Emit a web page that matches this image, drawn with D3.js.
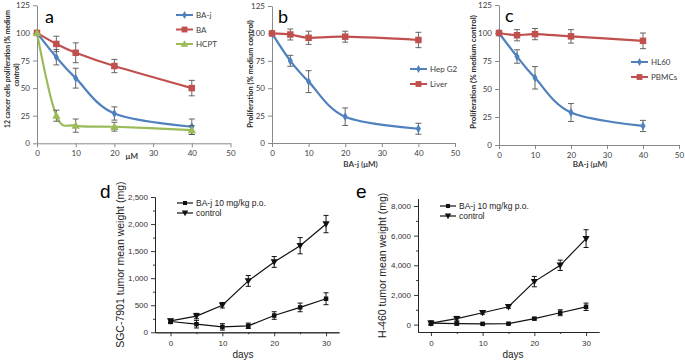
<!DOCTYPE html>
<html><head><meta charset="utf-8">
<script src="https://cdnjs.cloudflare.com/ajax/libs/d3/7.8.5/d3.min.js"></script>
<style>body{margin:0;background:#fff}svg{display:block}</style></head>
<body><svg id="c" width="685" height="362"></svg>
<script>
// ---------- DATA ----------
const concA = [0, 5, 10, 20, 40];
const aBaJ = [100, 78, 59, 27, 15];
const aBaJErr = [0, 7, 9, 6, 7];
const aBA = [100, 90, 82, 70, 50];
const aBAErr = [0, 7, 9, 6, 7];
const aHCPT = [100, 25, 16, 15, 12];
const aHCPTErr = [0, 5, 6, 4, 4];

const bHep = [100, 75, 56, 24, 13];
const bHepErr = [0, 5, 10, 8, 5];
const bLiver = [100, 99, 96, 97, 94];
const bLiverErr = [0, 5, 6, 5, 7];

const cHL60 = [100, 79, 60, 29, 17];
const cHL60Err = [0, 6, 10, 8, 5];
const cPBMC = [100, 98, 99, 97, 93];
const cPBMCErr = [0, 5, 5, 6, 7];

const percentTicks = [0, 25, 50, 75, 100, 125];
const concTicks = [0, 10, 20, 30, 40, 50];

const days = [0, 5, 10, 15, 20, 25, 30];
const dBaJ = [200, 150, 100, 120, 310, 460, 620];
const dBaJErr = [40, 70, 60, 50, 70, 80, 110];
const dCtrl = [210, 300, 500, 950, 1300, 1600, 2000];
const dCtrlErr = [30, 50, 50, 100, 100, 150, 160];
const dTicks = [0, 500, 1000, 1500, 2000, 2500];

const eBaJ = [100, 70, 50, 60, 400, 800, 1200];
const eBaJErr = [100, 100, 50, 50, 80, 200, 250];
const eCtrl = [100, 400, 800, 1200, 2900, 4000, 5800];
const eCtrlErr = [150, 150, 100, 100, 350, 350, 600];
const eTicks = [0, 2000, 4000, 6000, 8000];
const dayTicks = [0, 10, 20, 30];

// ---------- DRAW ----------
const svg = d3.select("#c");
const BLUE = "#4F81BD", RED = "#C0504D", GREEN = "#9BBB59";
const XF = "Lato, Open Sans, Liberation Sans, sans-serif";
const AF = "Liberation Sans, Arial, sans-serif";

function marker(g, type, x, y, color, s) {
  if (type === "diamond") {
    g.append("path").attr("d", d3.symbol(d3.symbolDiamond, s * s * 0.9)()).attr("transform", `translate(${x},${y})`).attr("fill", color);
  } else if (type === "square") {
    g.append("rect").attr("x", x - s / 2).attr("y", y - s / 2).attr("width", s).attr("height", s).attr("fill", color);
  } else if (type === "triangle") {
    g.append("path").attr("d", `M${x},${y - s * 0.6}L${x + s * 0.6},${y + s * 0.45}L${x - s * 0.6},${y + s * 0.45}Z`).attr("fill", color);
  } else if (type === "tridown") {
    g.append("path").attr("d", `M${x},${y + s * 0.6}L${x + s * 0.6},${y - s * 0.45}L${x - s * 0.6},${y - s * 0.45}Z`).attr("fill", color);
  }
}

function excelPanel(cfg) {
  const g = svg.append("g");
  const x = d3.scaleLinear().domain([0, 50]).range([cfg.x0, cfg.x1]);
  const y = d3.scaleLinear().domain([0, 125]).range([cfg.y0, cfg.y1]);
  const ax = g.append("g").attr("transform", `translate(0,${cfg.y0})`)
    .call(d3.axisBottom(x).tickValues(concTicks).tickSize(4).tickSizeOuter(0).tickPadding(3));
  const ay = g.append("g").attr("transform", `translate(${cfg.x0},0)`)
    .call(d3.axisLeft(y).tickValues(percentTicks).tickSize(4).tickSizeOuter(0).tickPadding(3));
  [ax, ay].forEach(a => {
    a.selectAll("path,line").attr("stroke", "#8a8a8a");
    a.selectAll("text").attr("fill", "#404040").style("font-family", XF).style("font-size", "8px");
  });
  cfg.series.forEach(s => {
    const pts = concA.map((c, i) => [x(c), y(s.v[i])]);
    g.append("path").attr("d", d3.line().curve(d3.curveCardinal.tension(0))(pts))
      .attr("fill", "none").attr("stroke", s.color).attr("stroke-width", 2.2);
  });
  cfg.series.forEach(s => {
    concA.forEach((c, i) => {
      if (s.e[i] > 0) {
        const xx = x(c), t = y(s.v[i] + s.e[i]), b = y(s.v[i] - s.e[i]);
        g.append("line").attr("x1", xx).attr("x2", xx).attr("y1", t).attr("y2", b).attr("stroke", "#555").attr("stroke-width", 0.9);
        [t, b].forEach(yy => g.append("line").attr("x1", xx - 3).attr("x2", xx + 3).attr("y1", yy).attr("y2", yy).attr("stroke", "#555").attr("stroke-width", 0.9));
      }
      marker(g, s.m, x(c), y(s.v[i]), s.color, s.ms);
    });
  });
  cfg.series.forEach((s, i) => {
    const ly = cfg.ly + i * cfg.lstep;
    g.append("line").attr("x1", cfg.lx).attr("x2", cfg.lx + 17).attr("y1", ly).attr("y2", ly).attr("stroke", s.color).attr("stroke-width", 2);
    marker(g, s.m, cfg.lx + 8.5, ly, s.color, s.ms * 0.9);
    g.append("text").attr("x", cfg.lx + 20).attr("y", ly + 3).text(s.name)
      .style("font-family", XF).style("font-size", "8px").attr("fill", "#404040");
  });
  g.append("text").attr("x", cfg.letX).attr("y", cfg.letY).text(cfg.letter)
    .style("font-family", XF).style("font-size", "18px").attr("fill", "#000");
  g.append("text").attr("x", (cfg.x0 + cfg.x1) / 2 + (cfg.xlOff || 0)).attr("y", cfg.xlY).attr("text-anchor", "middle")
    .text(cfg.xlabel).style("font-family", XF).style("font-size", "8px").style("font-weight", "bold").attr("fill", "#404040");
  // size the y title so that its natural length matches the reference
  const base = 8;
  const probe = g.append("text").text(cfg.ylabel[0]).style("font-family", XF).style("font-size", base + "px").style("font-weight", "bold");
  const fs = Math.min(8, base * cfg.ylLen / probe.node().getComputedTextLength());
  probe.remove();
  cfg.ylabel.forEach((t, i) => {
    g.append("text").attr("transform", `translate(${cfg.ylX + i * 9.5},${cfg.ylY[i]}) rotate(-90)`).attr("text-anchor", "middle")
      .text(t).style("font-family", XF).style("font-size", fs + "px").style("font-weight", "bold").attr("fill", "#262626");
  });
}

excelPanel({
  x0: 37, x1: 230.5, y0: 143.3, y1: 5.3, letter: "a", letX: 45, letY: 23,
  lx: 176, ly: 15, lstep: 14.5, xlabel: "\u03bcM", xlY: 159, xlOff: -2,
  ylabel: ["12 cancer cells proliferation (% medium", "control)"], ylX: 9.5, ylY: [69, 75], ylLen: 118,
  series: [
    { name: "BA-j", v: aBaJ, e: aBaJErr, color: BLUE, m: "diamond", ms: 5 },
    { name: "BA", v: aBA, e: aBAErr, color: RED, m: "square", ms: 6.5 },
    { name: "HCPT", v: aHCPT, e: aHCPTErr, color: GREEN, m: "triangle", ms: 7 }
  ]
});
excelPanel({
  x0: 272, x1: 455, y0: 143, y1: 6, letter: "b", letX: 278, letY: 23,
  lx: 410, ly: 69, lstep: 15, xlabel: "BA-j (\u03bcM)", xlY: 167, xlOff: -3,
  ylabel: ["Proliferation (% medium control)"], ylX: 253, ylY: [74], ylLen: 108,
  series: [
    { name: "Hep G2", v: bHep, e: bHepErr, color: BLUE, m: "diamond", ms: 5 },
    { name: "Liver", v: bLiver, e: bLiverErr, color: RED, m: "square", ms: 6.5 }
  ]
});
excelPanel({
  x0: 499, x1: 679, y0: 145, y1: 5, letter: "c", letX: 505, letY: 22,
  lx: 631, ly: 62, lstep: 15, xlabel: "BA-j (\u03bcM)", xlY: 167, xlOff: 1,
  ylabel: ["Proliferation (% medium control)"], ylX: 476, ylY: [72], ylLen: 114,
  series: [
    { name: "HL60", v: cHL60, e: cHL60Err, color: BLUE, m: "diamond", ms: 5 },
    { name: "PBMCs", v: cPBMC, e: cPBMCErr, color: RED, m: "square", ms: 6.5 }
  ]
});

function originPanel(cfg) {
  const g = svg.append("g");
  const x = d3.scaleLinear().domain(cfg.xd).range([cfg.xl, cfg.xr]);
  const y = d3.scaleLinear().domain(cfg.yd).range([cfg.yb, cfg.yt]);
  const fmt = d3.format(",");
  const ax = g.append("g").attr("transform", `translate(0,${cfg.yb})`)
    .call(d3.axisBottom(x).tickValues(dayTicks).tickSize(4).tickSizeOuter(0).tickPadding(4));
  const axm = g.append("g").attr("transform", `translate(0,${cfg.yb})`)
    .call(d3.axisBottom(x).tickValues([5, 15, 25]).tickSize(2).tickFormat("").tickSizeOuter(0));
  const ay = g.append("g").attr("transform", `translate(${cfg.xl},0)`)
    .call(d3.axisLeft(y).tickValues(cfg.yt2).tickSize(4).tickFormat(fmt).tickSizeOuter(0).tickPadding(3));
  const aym = g.append("g").attr("transform", `translate(${cfg.xl},0)`)
    .call(d3.axisLeft(y).tickValues(cfg.ym).tickSize(2).tickFormat("").tickSizeOuter(0));
  [ax, axm, ay, aym].forEach(a => {
    a.selectAll("path,line").attr("stroke", "#222").attr("stroke-width", 0.9);
    a.selectAll("text").attr("fill", "#333").style("font-family", AF).style("font-size", "8px");
  });
  cfg.series.forEach(s => {
    const pts = days.map((d, i) => [x(d), y(s.v[i])]);
    g.append("path").attr("d", d3.line()(pts)).attr("fill", "none").attr("stroke", "#111").attr("stroke-width", 1.2);
    days.forEach((d, i) => {
      const xx = x(d), t = y(s.v[i] + s.e[i]), b = y(Math.max(s.v[i] - s.e[i], cfg.yd[0]));
      g.append("line").attr("x1", xx).attr("x2", xx).attr("y1", t).attr("y2", b).attr("stroke", "#111").attr("stroke-width", 1);
      [t, b].forEach(yy => g.append("line").attr("x1", xx - 2.5).attr("x2", xx + 2.5).attr("y1", yy).attr("y2", yy).attr("stroke", "#111").attr("stroke-width", 1));
      marker(g, s.m, xx, y(s.v[i]), "#111", s.ms);
    });
  });
  cfg.series.forEach((s, i) => {
    const ly = cfg.ly + i * 10;
    g.append("line").attr("x1", cfg.lx).attr("x2", cfg.lx + 16).attr("y1", ly).attr("y2", ly).attr("stroke", "#111").attr("stroke-width", 1.2);
    marker(g, s.m, cfg.lx + 8, ly, "#111", s.ms * 0.9);
    g.append("text").attr("x", cfg.lx + 19).attr("y", ly + 3).text(s.name)
      .style("font-family", AF).style("font-size", "8.5px").attr("fill", "#222");
  });
  g.append("text").attr("x", cfg.letX).attr("y", cfg.letY).text(cfg.letter)
    .style("font-family", AF).style("font-size", "19px").attr("fill", "#000");
  g.append("text").attr("x", cfg.dX).attr("y", 358).attr("text-anchor", "middle").text("days")
    .style("font-family", AF).style("font-size", "10px").attr("fill", "#222");
  g.append("text").attr("transform", `translate(${cfg.ylX},${(cfg.yb + y(cfg.yd[1])) / 2}) rotate(-90)`).attr("text-anchor", "middle")
    .text(cfg.ylabel).style("font-family", AF).style("font-size", "10.5px").attr("fill", "#222");
}

originPanel({
  xd: [-3, 32.5], xl: 155, xr: 339, yd: [0, 2500], yb: 332.3, yt: 197,
  yt2: dTicks, ym: [250, 750, 1250, 1750, 2250],
  letter: "d", letX: 100, letY: 198, dX: 243, lx: 177, ly: 203,
  ylabel: "SGC-7901 tumor mean weight (mg)", ylX: 124,
  series: [
    { name: "BA-j 10 mg/kg p.o.", v: dBaJ, e: dBaJErr, m: "square", ms: 4.5 },
    { name: "control", v: dCtrl, e: dCtrlErr, m: "tridown", ms: 6 }
  ]
});
originPanel({
  xd: [-2.5, 32.5], xl: 418, xr: 599, yd: [-500, 8500], yb: 332, yt: 198.6,
  yt2: eTicks, ym: [1000, 3000, 5000, 7000],
  letter: "e", letX: 356, letY: 198, dX: 513, lx: 440, ly: 206,
  ylabel: "H-460 tumor mean weight (mg)", ylX: 386,
  series: [
    { name: "BA-j 10 mg/kg p.o.", v: eBaJ, e: eBaJErr, m: "square", ms: 4.5 },
    { name: "control", v: eCtrl, e: eCtrlErr, m: "tridown", ms: 6 }
  ]
});
</script></body></html>
